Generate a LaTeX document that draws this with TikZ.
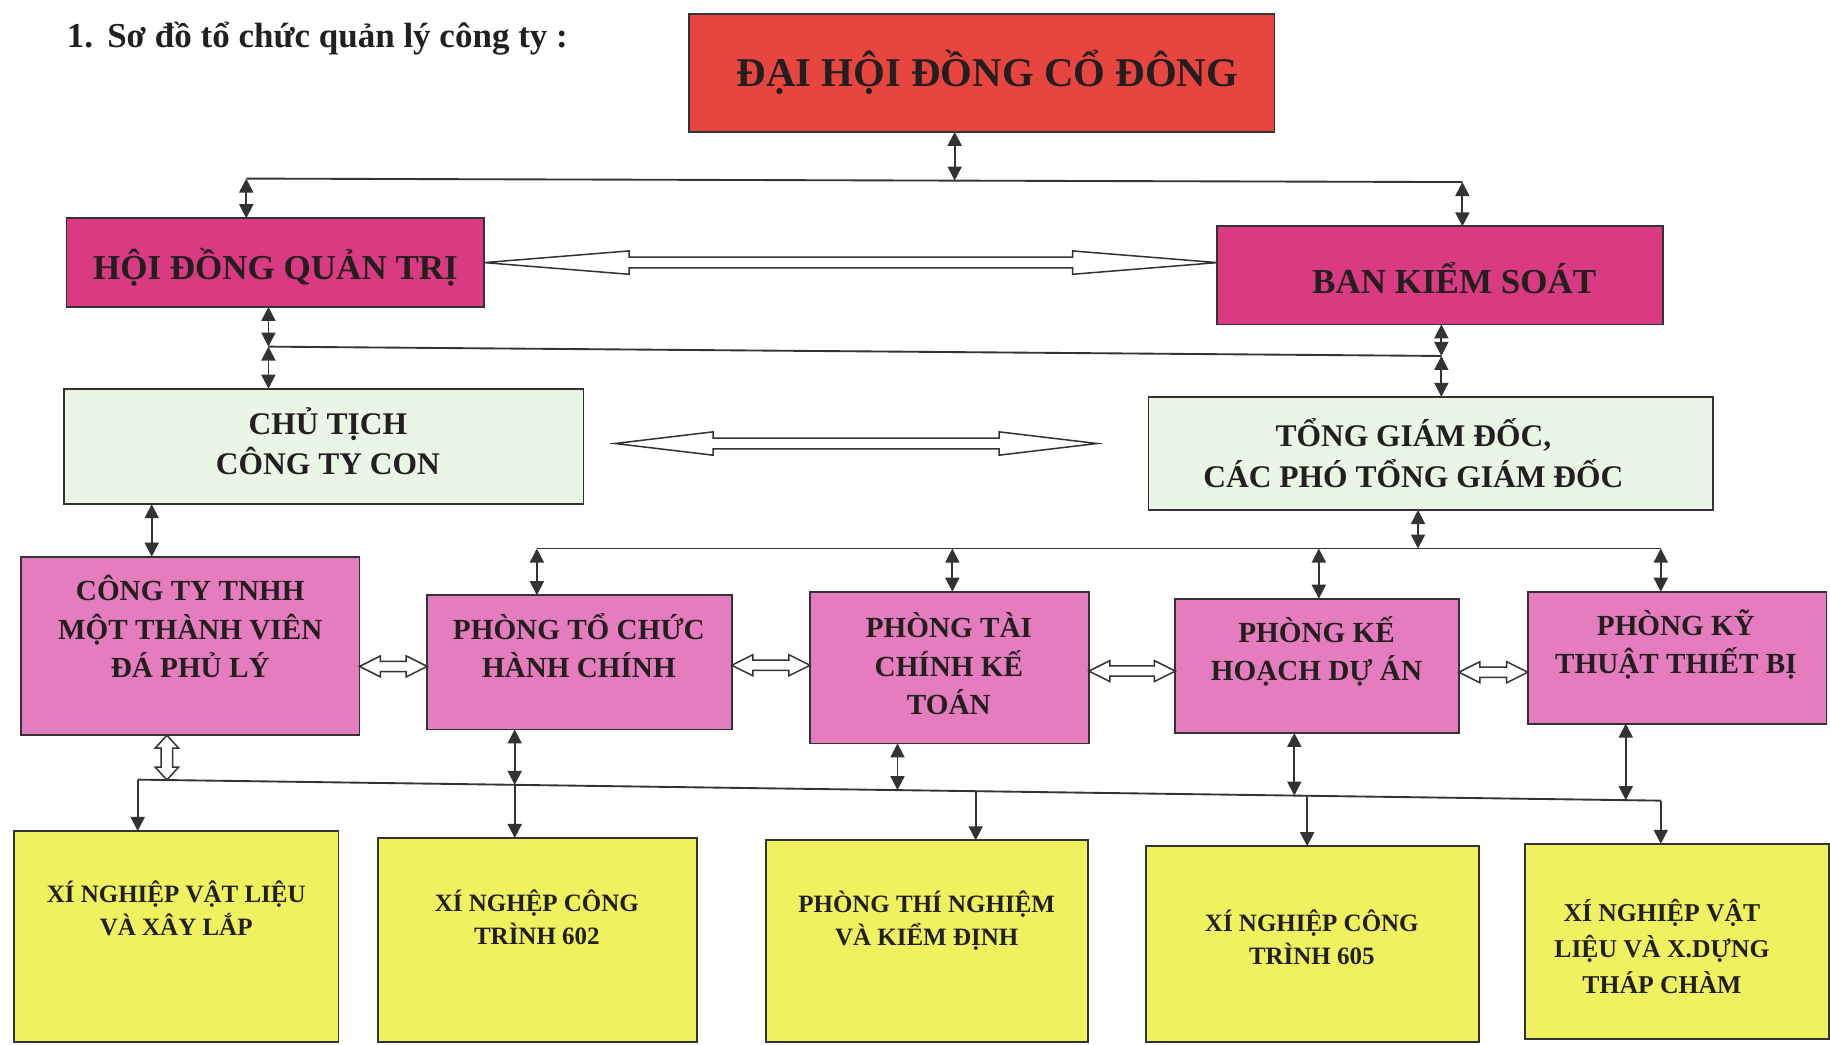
\documentclass[tikz,border=0pt]{standalone}
\usepackage{fontspec}
\setmainfont{Liberation Serif}
\usetikzlibrary{arrows.meta,calc,fit}
\definecolor{redfill}{HTML}{E8453F}
\definecolor{magfill}{HTML}{DA3A82}
\definecolor{pinkfill}{HTML}{E57CBE}
\definecolor{mintfill}{HTML}{EAF5E6}
\definecolor{yelfill}{HTML}{EFF25E}
\definecolor{linec}{HTML}{333333}
\definecolor{textc}{HTML}{231F20}
\newcommand\hharrow[5]{\path[hollow] let \p1=(#1), \p2=(#2) in
  (\x1,\y1) -- (\x1+#3,\y1+#4) -- (\x1+#3,\y1+#5) -- (\x2-#3,\y1+#5) -- (\x2-#3,\y1+#4) -- (\x2,\y1)
  -- (\x2-#3,\y1-#4) -- (\x2-#3,\y1-#5) -- (\x1+#3,\y1-#5) -- (\x1+#3,\y1-#4) -- cycle;}
\newcommand\vharrow[5]{\path[hollow] let \p1=(#1), \p2=(#2) in
  (\x1,\y1) -- (\x1+#4,\y1-#3) -- (\x1+#5,\y1-#3) -- (\x1+#5,\y2+#3) -- (\x1+#4,\y2+#3) -- (\x1,\y2)
  -- (\x1-#4,\y2+#3) -- (\x1-#5,\y2+#3) -- (\x1-#5,\y1-#3) -- (\x1-#4,\y1-#3) -- cycle;}
\begin{document}
\begin{tikzpicture}[x=0.5pt,y=-0.5pt,
  box/.style={draw=linec, line width=0.8pt, inner sep=0pt, outer sep=0pt},
  txt/.style={align=center, text=textc, inner sep=0pt},
  tA/.style={txt, font=\fontsize{17.5}{21}\selectfont\bfseries},
  tB/.style={txt, font=\fontsize{15}{18}\selectfont\bfseries},
  tC/.style={txt, font=\fontsize{13.5}{17.5}\selectfont\bfseries},
  tD/.style={txt, font=\fontsize{12.5}{16.5}\selectfont\bfseries},
  tE/.style={txt, font=\fontsize{10.7}{14}\selectfont\bfseries},
  conn/.style={draw=linec, line width=0.8pt},
  dbl/.style={conn, {Triangle[length=6pt,width=6pt]}-{Triangle[length=6pt,width=6pt]}},
  sgl/.style={conn, -{Triangle[length=6pt,width=6pt]}},
  hollow/.style={draw=linec, line width=0.65pt, fill=white, line join=miter}]
\useasboundingbox (0,0) rectangle (1568,895);

% title
\node[txt, anchor=west, font=\fontsize{15}{18}\selectfont\bfseries] (title) at (57,33) {1.\hspace{6pt}Sơ đồ tổ chức quản lý công ty :};

% level 0
\node[box, fill=redfill, fit={(590,12) (1092,113)}] (dhdcd) {};
\node[tA] (dhdcd-t) at (846,62) {ĐẠI HỘI ĐỒNG CỔ ĐÔNG};

% level 1
\node[box, fill=magfill, fit={(57,187) (415,263)}] (hdqt) {};
\node[tB] (hdqt-t) at (236,229) {HỘI ĐỒNG QUẢN TRỊ};
\node[box, fill=magfill, fit={(1043,194) (1425,278)}] (bks) {};
\node[tB] (bks-t) at (1246,238) {BAN KIỂM SOÁT};

% level 2
\node[box, fill=mintfill, fit={(55,333) (500,432)}] (ctct) {};
\node[tC] (ctct-t) at (281,378) {CHỦ TỊCH\\CÔNG TY CON};
\node[box, fill=mintfill, fit={(984,340) (1468,437)}] (tgd) {};
\node[tC] (tgd-t) at (1211,388) {TỔNG GIÁM ĐỐC,\\CÁC PHÓ TỔNG GIÁM ĐỐC};

% level 3
\node[box, fill=pinkfill, fit={(18,477) (308,630)}] (cty) {};
\node[tD] (cty-t) at (163,537) {CÔNG TY TNHH\\MỘT THÀNH VIÊN\\ĐÁ PHỦ LÝ};
\node[box, fill=pinkfill, fit={(366,510) (627,625)}] (ptc) {};
\node[tD] (ptc-t) at (496,553) {PHÒNG TỔ CHỨC\\HÀNH CHÍNH};
\node[box, fill=pinkfill, fit={(694,507) (933,637)}] (ptk) {};
\node[tD] (ptk-t) at (813,569) {PHÒNG TÀI\\CHÍNH KẾ\\TOÁN};
\node[box, fill=pinkfill, fit={(1007,513) (1250,628)}] (pkh) {};
\node[tD] (pkh-t) at (1128,558) {PHÒNG KẾ\\HOẠCH DỰ ÁN};
\node[box, fill=pinkfill, fit={(1309,507) (1565,620)}] (pkt) {};
\node[tD] (pkt-t) at (1436,552) {PHÒNG KỸ\\THUẬT THIẾT BỊ};

% level 4
\node[box, fill=yelfill, fit={(12,712) (290,893)}] (x1) {};
\node[tE] (x1-t) at (151,778) {XÍ NGHIỆP VẬT LIỆU\\VÀ XÂY LẮP};
\node[box, fill=yelfill, fit={(324,718) (597,893)}] (x2) {};
\node[tE] (x2-t) at (460,786) {XÍ NGHỆP CÔNG\\TRÌNH 602};
\node[box, fill=yelfill, fit={(656,720) (932,893)}] (x3) {};
\node[tE] (x3-t) at (794,789) {PHÒNG THÍ NGHIỆM\\VÀ KIỂM ĐỊNH};
\node[box, fill=yelfill, fit={(982,725) (1267,893)}] (x4) {};
\node[tE] (x4-t) at (1124,803) {XÍ NGHIỆP CÔNG\\TRÌNH 605};
\node[box, fill=yelfill, fit={(1307,723) (1567,890)}] (x5) {};
\node[tE, font=\fontsize{11}{15.5}\selectfont\bfseries] (x5-t) at (1424,811) {XÍ NGHIỆP VẬT\\LIỆU VÀ X.DỰNG\\THÁP CHÀM};

% bus 1
\coordinate (b1L) at (211,153);
\coordinate (b1M) at (818,154.7);
\coordinate (b1R) at (1253,156);
\draw[conn] (b1L) -- (b1R);
\draw[dbl] (b1M |- dhdcd.south) -- (b1M);
\draw[dbl] (b1L) -- (b1L |- hdqt.north);
\draw[dbl] (b1R) -- (b1R |- bks.north);

% HDQT <-> BKS
\hharrow{hdqt.east}{hdqt.east -| bks.west}{62pt}{5pt}{2.3pt}

% bus 2
\coordinate (b2L) at (230,297);
\coordinate (b2R) at (1235,305);
\draw[conn] (b2L) -- (b2R);
\draw[dbl] (b2L |- hdqt.south) -- (b2L);
\draw[dbl] (b2L) -- (b2L |- ctct.north);
\draw[dbl] (b2R |- bks.south) -- (b2R);
\draw[dbl] (b2R) -- (b2R |- tgd.north);

% CTCT <-> TGD
\coordinate (a1) at (527,380);
\coordinate (a2) at (940,380);
\hharrow{a1}{a2}{42pt}{5pt}{2.3pt}

% CTCT -> CTY
\coordinate (k1) at (130,450);
\draw[dbl] (k1 |- ctct.south) -- (k1 |- cty.north);

% bus 3
\coordinate (b3L) at (460,470);
\coordinate (b3b) at (816,470);
\coordinate (b3c) at (1130,470);
\coordinate (b3M) at (1215,470);
\coordinate (b3R) at (1423,470);
\draw[conn] (b3L) -- (b3R);
\draw[dbl] (b3M |- tgd.south) -- (b3M);
\draw[dbl] (b3L) -- (b3L |- ptc.north);
\draw[dbl] (b3b) -- (b3b |- ptk.north);
\draw[dbl] (b3c) -- (b3c |- pkh.north);
\draw[dbl] (b3R) -- (b3R |- pkt.north);

% row hollow arrows
\coordinate (r1) at (308,571);
\coordinate (r2) at (627,570);
\coordinate (r3) at (933,575);
\coordinate (r4) at (1250,576);
\hharrow{r1}{r1 -| ptc.west}{9pt}{4.5pt}{2.2pt}
\hharrow{r2}{r2 -| ptk.west}{9pt}{4.5pt}{2.2pt}
\hharrow{r3}{r3 -| pkh.west}{9pt}{4.5pt}{2.2pt}
\hharrow{r4}{r4 -| pkt.west}{9pt}{4.5pt}{2.2pt}

% bus 4
\coordinate (b4L) at (118,668);
\coordinate (b4a) at (143,668.3);
\coordinate (b4b) at (441,672.5);
\coordinate (b4c) at (769,677);
\coordinate (b4d) at (836,677.9);
\coordinate (b4e) at (1109,681.7);
\coordinate (b4f) at (1120,681.8);
\coordinate (b4g) at (1393,685.6);
\coordinate (b4R) at (1423,686);
\draw[conn] (b4L) -- (b4R);
\vharrow{b4a |- cty.south}{b4a}{5.5pt}{5pt}{2.5pt}
\draw[dbl] (b4b |- ptc.south) -- (b4b);
\draw[dbl] (b4c |- ptk.south) -- (b4c);
\draw[dbl] (b4e |- pkh.south) -- (b4e);
\draw[dbl] (b4g |- pkt.south) -- (b4g);
\draw[sgl] (b4L) -- (b4L |- x1.north);
\draw[sgl] (b4b) -- (b4b |- x2.north);
\draw[sgl] (b4d) -- (b4d |- x3.north);
\draw[sgl] (b4f) -- (b4f |- x4.north);
\draw[sgl] (b4R) -- (b4R |- x5.north);
\end{tikzpicture}
\end{document}
